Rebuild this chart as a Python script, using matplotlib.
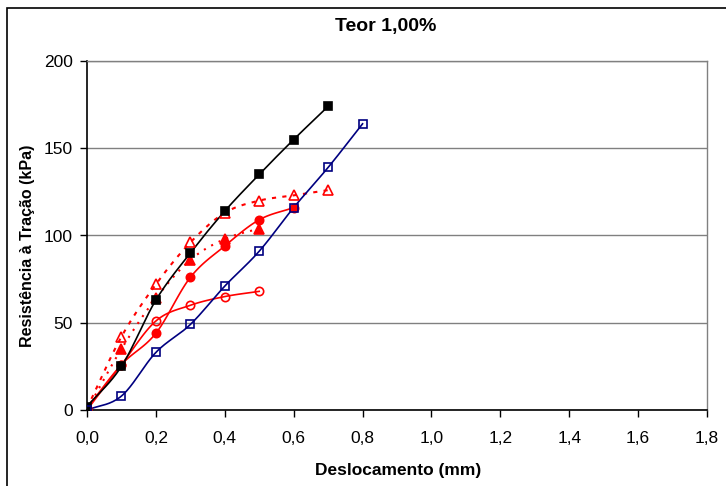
import numpy as np
import matplotlib
matplotlib.use("Agg")
import matplotlib.pyplot as plt
from matplotlib.patches import Rectangle

plt.rcParams['font.family'] = ['Liberation Sans', 'DejaVu Sans']

# Displacement (mm) and tensile strength (kPa) for each test series
desloc_a = [0.0, 0.1, 0.2, 0.3, 0.4, 0.5, 0.6, 0.7]
res_preto = [2, 25, 63, 90, 114, 135, 155, 174]

desloc_b = [0.0, 0.1, 0.2, 0.3, 0.4, 0.5, 0.6, 0.7, 0.8]
res_azul = [0, 8, 33, 49, 71, 91, 116, 139, 164]

desloc_c = [0.0, 0.1, 0.2, 0.3, 0.4, 0.5, 0.6]
res_circ_cheio = [1, 26, 44, 76, 94, 109, 116]

desloc_d = [0.0, 0.1, 0.2, 0.3, 0.4, 0.5]
res_tri_cheio = [0, 35, 64, 86, 98, 104]

desloc_e = [0.0, 0.1, 0.2, 0.3, 0.4, 0.5, 0.6, 0.7]
res_tri_vazio = [1, 42, 72, 96, 113, 120, 123, 126]

desloc_f = [0.0, 0.1, 0.2, 0.3, 0.4, 0.5]
res_circ_vazio = [0, 26, 51, 60, 65, 68]

x_ticks = [0.0, 0.2, 0.4, 0.6, 0.8, 1.0, 1.2, 1.4, 1.6, 1.8]
y_ticks = [0, 50, 100, 150, 200]


def smooth(x, y, n=20):
    """Catmull-Rom curve through the points (smoothed line look)."""
    p = np.column_stack([x, y]).astype(float)
    p = np.vstack([p[0] - (p[1] - p[0]), p, p[-1] + (p[-1] - p[-2])])
    out = []
    t = np.linspace(0, 1, n, endpoint=False)[:, None]
    for i in range(1, len(p) - 2):
        p0, p1, p2, p3 = p[i - 1], p[i], p[i + 1], p[i + 2]
        seg = 0.5 * ((2 * p1) + (-p0 + p2) * t
                     + (2 * p0 - 5 * p1 + 4 * p2 - p3) * t ** 2
                     + (-p0 + 3 * p1 - 3 * p2 + p3) * t ** 3)
        out.append(seg)
    out.append(p[-2][None, :])
    c = np.vstack(out)
    return c[:, 0], c[:, 1]


fig = plt.figure(figsize=(7.26, 4.86), dpi=100)
ax = fig.add_axes([87 / 726, 1 - 410 / 486, 620 / 726, 349 / 486])

red = '#ff0000'
navy = '#000080'

series = [
    (desloc_f, res_circ_vazio, red, '-', 'o', 'none', 1.2),
    (desloc_d, res_tri_cheio, red, (0, (1, 3)), '^', red, 1.5),
    (desloc_c, res_circ_cheio, red, '-', 'o', red, 1.2),
    (desloc_e, res_tri_vazio, red, (0, (2, 3)), '^', 'none', 1.5),
    (desloc_a, res_preto, 'black', '-', 's', 'black', 1.2),
    (desloc_b, res_azul, navy, '-', 's', 'none', 1.2),
]

for x, y, col, ls, mk, fc, lw in series:
    sx, sy = smooth(x, y)
    ax.plot(sx, sy, color=col, linestyle=ls, linewidth=lw, zorder=3)
    ax.plot(x, y, linestyle='none', marker=mk, markersize=6.5 if mk == '^' else 6,
            markerfacecolor=fc, markeredgecolor=col, markeredgewidth=1.2, zorder=4)

ax.set_xlim(0, 1.8)
ax.set_ylim(0, 200)
ax.set_xticks(x_ticks)
ax.set_xticklabels([f"{v:.1f}".replace('.', ',') for v in x_ticks])
ax.set_yticks(y_ticks)
ax.set_yticklabels([str(v) for v in y_ticks])
ax.tick_params(axis='both', direction='out', length=5, width=1, labelsize=12.5,
               colors='black')
ax.tick_params(axis='x', pad=10)
ax.tick_params(axis='y', pad=5)

ax.grid(axis='y', color='#808080', linewidth=1)
ax.set_axisbelow(True)
for s in ['left', 'bottom']:
    ax.spines[s].set_color('black')
    ax.spines[s].set_linewidth(1.2)
for s in ['top', 'right']:
    ax.spines[s].set_color('#808080')
    ax.spines[s].set_linewidth(1)

fig.text(386 / 726, 1 - 26 / 486, 'Teor 1,00%', ha='center', va='center',
         fontsize=14, fontweight='bold')
fig.text(398 / 726, 1 - 470 / 486, 'Deslocamento (mm)', ha='center', va='center',
         fontsize=12.5, fontweight='bold')
fig.text(28 / 726, 1 - 246 / 486, 'Resistência à Tração (kPa)', ha='center',
         va='center', rotation=90, fontsize=11.5, fontweight='bold')

fig.patches.append(Rectangle((7 / 726, -0.05), 1.0, 1 - 8 / 486 + 0.05,
                             transform=fig.transFigure, fill=False,
                             edgecolor='black', linewidth=1.2))

fig.savefig('out.png', dpi=100)
